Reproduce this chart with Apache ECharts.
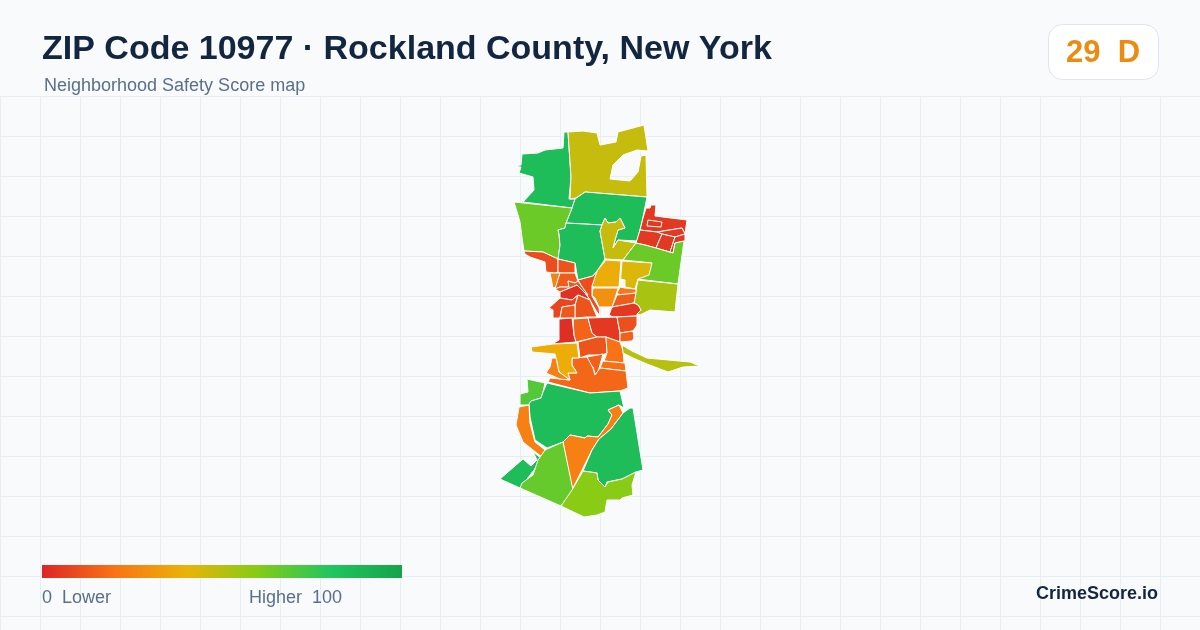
<!DOCTYPE html>
<html>
<head>
<meta charset="utf-8">
<title>ZIP Code 10977</title>
<style>
html, body { margin: 0; padding: 0; background: #f8fafc; }
#chart { width: 1200px; height: 630px; }
</style>
<script src="https://cdn.jsdelivr.net/npm/echarts@6/dist/echarts.min.js"></script>
</head>
<body>
<div id="chart"></div>
<script>
// scores, one per tract
const tractNames = ['nw', 'north', 'ne_green', 'west', 'mid_green', 'finger', 'ne_a', 'ne_b', 'ne_c', 'ne_d', 'ne_e', 'ne_box',
  'east_lime', 'east_yellow', 'east_olive', 'c_amber', 'c_orange', 'c_small', 'c_east', 'c_red', 'c_sliver',
  'w_strip', 'w_a', 'w_orange', 'w_b', 'w_c', 'w_red', 'w_d', 'w_e', 'w_f',
  'r_red', 'r_a', 'r_b', 'r_c', 'r_d', 's_a', 's_b', 's_c', 's_d', 's_big', 's_amber', 's_left', 'blade',
  'b_lime', 'b_green', 'b_orange', 'b_left', 'b_sw', 'b_lime2', 'b_east', 'b_south'];
const tractScores = [85, 47, 85, 65, 85, 47, 5, 5, 5, 5, 5, 5,
  65, 43, 53, 38, 29, 22, 14, 5, 10,
  10, 12, 25, 14, 13, 3, 12, 8, 13,
  2, 16, 5, 11, 15, 12, 20, 19, 15, 17, 38, 24, 50,
  70, 85, 24, 24, 85, 66, 85, 59];

// tract outlines (x, y down)
const tractOutlines = {
  nw: [[[564,132],[563,148],[545,150],[538,153],[522,154],[521,165],[512,166],[521,167],[519,173],[533,177],[534,190],[523,202],[572,208],[575,199],[569,199],[571,177],[568,132]]],
  north: [[[568,132],[583,131],[597,133],[600,145],[616,142],[618,132],[644,125],[648,151],[637,150],[623,155],[613,165],[610,179],[630,181],[638,172],[641,156],[646,155],[647,197],[585,192],[576,198],[570,199],[571,177]]],
  ne_green: [[[585,192],[647,197],[642,222],[637,241],[618,240],[613,248],[615,240],[618,230],[625,228],[620,218],[616,222],[608,223],[605,218],[602,225],[566,223],[572,208],[575,199]]],
  west: [[[514,202],[572,208],[566,223],[565,228],[558,230],[559,234],[560,245],[558,259],[543,252],[524,251],[522,238],[520,222],[518,215]]],
  mid_green: [[[566,223],[602,225],[600,231],[605,259],[597,271],[593,276],[578,280],[575,263],[558,259],[560,245],[559,234],[558,230],[565,228]]],
  finger: [[[605,218],[608,223],[616,222],[620,218],[625,228],[618,230],[615,240],[613,248],[618,240],[636,243],[623,260],[605,259],[600,231],[602,225]]],
  ne_a: [[[643,218],[646,208],[650,208],[651,205],[656,205],[655,216],[687,220],[685,234],[682,228],[657,232],[640,230]]],
  ne_b: [[[657,232],[682,228],[685,234],[675,237],[662,234]]],
  ne_c: [[[640,230],[657,232],[662,234],[656,248],[645,245],[636,243]]],
  ne_d: [[[662,234],[675,237],[670,252],[656,248]]],
  ne_e: [[[675,237],[685,234],[685,241],[675,243],[673,253],[670,252]]],
  ne_box: [[[648,220],[662,222],[661,227],[647,226]]],
  east_lime: [[[636,243],[645,245],[656,248],[673,253],[675,243],[684,241],[678,284],[637,279],[652,263],[623,260]]],
  east_yellow: [[[622,261],[652,263],[649,275],[638,279],[635,289],[625,287],[625,280],[621,279],[620,287]]],
  east_olive: [[[638,280],[678,284],[675,312],[650,310],[640,315],[637,314],[641,310],[638,305],[634,303],[636,290]]],
  c_amber: [[[606,260],[621,261],[619,287],[593,287],[592,285],[597,271]]],
  c_orange: [[[593,288],[618,288],[616,295],[612,307],[599,307],[595,298],[592,295]]],
  c_small: [[[620,287],[625,288],[636,289],[636,293],[620,295],[617,293]]],
  c_east: [[[617,295],[636,293],[634,303],[612,307]]],
  c_red: [[[612,307],[634,303],[638,305],[641,310],[637,314],[637,316],[613,317],[609,315]]],
  c_sliver: [[[578,280],[593,276],[597,271],[592,286],[592,296],[599,308],[600,316],[597,312]]],
  w_strip: [[[524,251],[543,252],[558,259],[558,272],[555,273],[546,272],[545,262],[530,257],[525,254]]],
  w_a: [[[558,259],[575,263],[575,273],[560,273],[558,272]]],
  w_orange: [[[550,273],[560,273],[556,287],[553,288]]],
  w_b: [[[560,273],[575,273],[578,281],[575,283],[568,281],[569,287],[560,287],[555,289]]],
  w_c: [[[568,281],[575,283],[578,281],[588,295],[585,293],[577,285],[560,292],[555,289],[560,287],[569,287]]],
  w_red: [[[560,292],[577,285],[585,293],[590,300],[578,295],[572,300],[560,298]]],
  w_d: [[[578,295],[590,300],[592,305],[597,317],[587,317],[575,318],[575,305],[577,298]]],
  w_e: [[[549,308],[560,298],[572,300],[578,295],[577,298],[575,305],[562,307],[560,318],[553,318],[553,310]]],
  w_f: [[[562,307],[575,305],[575,318],[560,318]]],
  r_red: [[[559,319],[572,318],[574,335],[576,342],[552,344],[559,340]]],
  r_a: [[[573,319],[588,318],[592,333],[597,337],[576,342],[574,335]]],
  r_b: [[[588,318],[617,317],[620,333],[620,342],[606,337],[597,337],[592,333]]],
  r_c: [[[617,317],[637,316],[637,325],[633,331],[620,333]]],
  r_d: [[[620,333],[633,331],[634,338],[632,341],[620,342]]],
  s_a: [[[578,342],[597,337],[606,337],[607,353],[602,355],[588,355],[580,358]]],
  s_b: [[[606,337],[620,342],[623,350],[624,363],[604,361],[607,353]]],
  s_c: [[[603,361],[625,363],[626,371],[600,368]]],
  s_d: [[[587,357],[603,354],[598,372],[595,374],[593,367],[588,362]]],
  s_big: [[[572,358],[587,357],[593,368],[595,375],[600,368],[626,371],[628,388],[620,391],[590,393],[548,382],[550,378],[570,380],[568,373],[577,373],[572,365]]],
  s_amber: [[[531,347],[553,344],[577,343],[579,358],[572,358],[572,365],[577,373],[568,373],[570,380],[559,372],[557,363],[555,354],[532,352]]],
  s_left: [[[552,358],[556,358],[559,372],[570,380],[560,379],[546,373],[550,367]]],
  blade: [[[622,345],[632,351],[647,358],[690,362],[700,366],[683,367],[668,372],[647,364],[633,358],[623,353]]],
  b_lime: [[[527,379],[545,383],[543,392],[541,398],[531,401],[529,405],[520,405],[520,394],[528,392]]],
  b_green: [[[547,383],[590,393],[620,391],[624,408],[619,405],[608,410],[612,415],[608,424],[598,437],[587,436],[585,438],[570,435],[563,442],[547,448],[535,440],[530,417],[529,404],[531,401],[541,398],[543,392]]],
  b_orange: [[[608,410],[619,405],[623,413],[611,429],[599,439],[592,450],[582,470],[572,490],[563,442],[570,435],[585,438],[587,436],[598,437],[608,424],[612,415]]],
  b_left: [[[519,407],[529,405],[530,423],[535,442],[545,450],[542,457],[533,450],[523,442],[516,425]]],
  b_sw: [[[500,479],[523,459],[531,466],[537,460],[533,452],[541,458],[534,470],[520,488]]],
  b_lime2: [[[545,450],[563,442],[573,490],[561,506],[520,488],[522,483],[533,475],[538,460]]],
  b_east: [[[623,413],[630,408],[633,408],[643,470],[636,472],[622,479],[607,482],[605,487],[598,480],[597,473],[583,471],[592,450],[599,439],[611,429]]],
  b_south: [[[583,471],[597,473],[598,480],[605,487],[608,482],[622,479],[636,472],[632,485],[633,495],[622,498],[620,500],[607,500],[605,512],[597,515],[584,517],[561,506],[572,490]]]
};

const scaleStops = ['#dc2626', '#f97316', '#eab308', '#84cc16', '#22c55e', '#16a34a'];

const geoJson = {
  type: 'FeatureCollection',
  features: tractNames.map(name => ({
    type: 'Feature',
    properties: { name: name },
    geometry: {
      type: 'Polygon',
      coordinates: tractOutlines[name].map(ring => ring.map(p => [p[0], -p[1]]))
    }
  }))
};
echarts.registerMap('zip10977', geoJson);

const chart = echarts.init(document.getElementById('chart'));
const inkDark = '#13263f';
const inkSoft = '#5a6f8a';
const gridLine = { show: true, lineStyle: { color: '#e6eef3', width: 1 } };

chart.setOption({
  animation: false,
  backgroundColor: '#f8fafc',
  title: [
    {
      text: 'ZIP Code 10977 · Rockland County, New York',
      left: 42,
      top: 33,
      padding: 0,
      textStyle: { fontFamily: 'Liberation Sans', fontSize: 34, fontWeight: 'bold', color: inkDark }
    },
    {
      text: 'Neighborhood Safety Score map',
      left: 44,
      top: 77,
      padding: 0,
      textStyle: { fontFamily: 'Liberation Sans', fontSize: 18, fontWeight: 'normal', color: inkSoft }
    }
  ],
  grid: { left: 0, right: 0, top: 96, bottom: 0 },
  xAxis: { type: 'value', min: 0, max: 1200, interval: 40, axisLine: { show: false }, axisTick: { show: false }, axisLabel: { show: false }, splitLine: gridLine },
  yAxis: { type: 'value', inverse: true, min: 0, max: 534, interval: 40, axisLine: { show: false }, axisTick: { show: false }, axisLabel: { show: false }, splitLine: gridLine },
  visualMap: {
    type: 'continuous',
    show: false,
    min: 0,
    max: 100,
    seriesIndex: 0,
    inRange: { color: scaleStops }
  },
  series: [{
    type: 'map',
    map: 'zip10977',
    aspectScale: 1,
    boundingCoords: [[0, 0], [1200, -630]],
    left: 0,
    top: 0,
    width: 1200,
    height: 630,
    roam: false,
    silent: true,
    label: { show: false },
    emphasis: { disabled: true },
    itemStyle: { borderColor: '#ffffff', borderWidth: 1 },
    data: tractNames.map((name, i) => ({ name: name, value: tractScores[i] }))
  }],
  graphic: [
    {
      type: 'rect', z: 100, left: 42, top: 565,
      shape: { width: 360, height: 13 },
      style: {
        fill: new echarts.graphic.LinearGradient(0, 0, 1, 0,
          scaleStops.map((color, i) => ({ offset: i / (scaleStops.length - 1), color: color })))
      }
    },
    { type: 'rect', z: 100, left: 1048, top: 24, shape: { width: 110, height: 55, r: 14 }, style: { fill: '#ffffff', stroke: '#dfe5ee', lineWidth: 1 } },
    { type: 'text', z: 100, left: 1066, top: 38, style: { text: '29  D', fontFamily: 'Liberation Sans', fontSize: 31, fontWeight: 'bold', fill: '#ea8c12' } },
    { type: 'text', z: 100, left: 42, top: 589, style: { text: '0  Lower', fontFamily: 'Liberation Sans', fontSize: 18, fill: inkSoft } },
    { type: 'text', z: 100, left: 249, top: 589, style: { text: 'Higher  100', fontFamily: 'Liberation Sans', fontSize: 18, fill: inkSoft } },
    { type: 'text', z: 100, right: 42, top: 585, style: { text: 'CrimeScore.io', fontFamily: 'Liberation Sans', fontSize: 18, fontWeight: 'bold', fill: inkDark } }
  ]
});
</script>
</body>
</html>
